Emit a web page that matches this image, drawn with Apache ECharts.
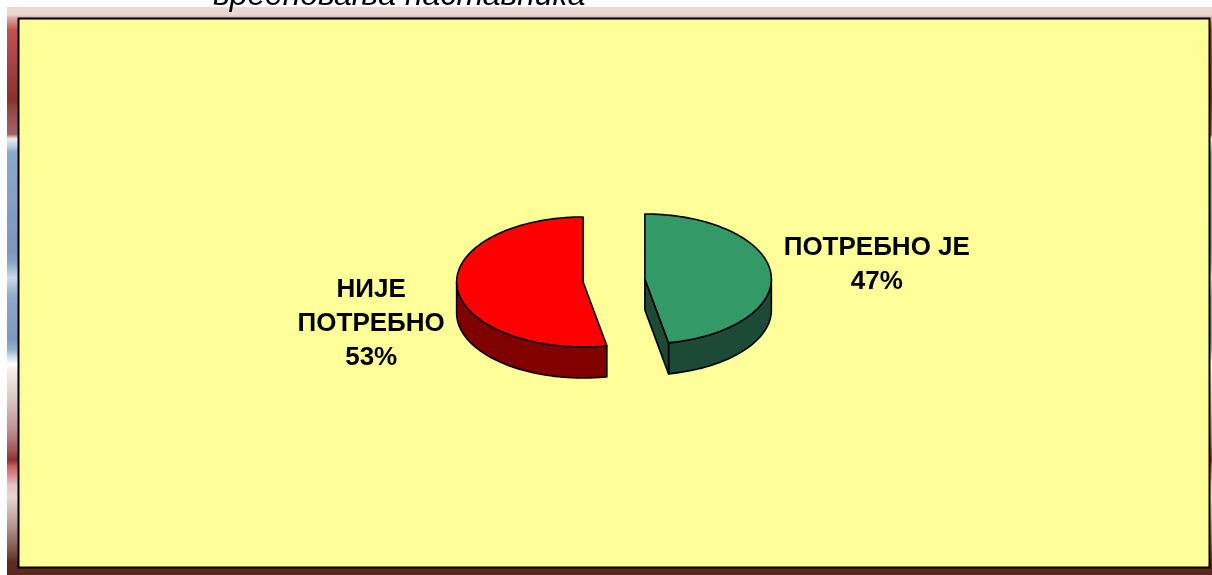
<!DOCTYPE html>
<html>
<head>
<meta charset="utf-8">
<script src="https://cdn.jsdelivr.net/npm/echarts@6/dist/echarts.min.js"></script>
<style>
    html, body { margin: 0; padding: 0; background: #fff; }
    #chart { width: 1212px; height: 575px; }
</style>
</head>
<body>
<div id="chart"></div>
<script>
// подаци
const categories = ['НИЈЕ\nПОТРЕБНО', 'ПОТРЕБНО ЈЕ'];
const values = [53, 47];
const titleText = 'вредновања наставника';

// геометрија 3Д пите
const pie = { cx: 614, cy: 280.5, rx: 126.5, ry: 65, depth: 31, explode: 31, start: -90 };
const sliceStyles = [
    { top: '#FF0000', side: '#800000', label: [-86, 36] },
    { top: '#339966', side: '#1D4A36', label: [106, -8] }
];
const labelFont = 'bold 26px "Liberation Sans", Arial, sans-serif';

// позадина слајда (вертикални градијент)
const bgStops = [
    [0, '#EBDAD4'], [0.014, '#EAD6D0'], [0.0176, '#E0B4AE'], [0.028, '#D48480'],
    [0.0405, '#C4524E'], [0.116, '#A03E3E'], [0.164, '#8A3030'], [0.181, '#964848'],
    [0.224, '#A46464'], [0.232, '#F2EAEA'], [0.245, '#BDD1E3'], [0.255, '#8AAAC9'],
    [0.428, '#7D95BF'], [0.449, '#84A6C6'], [0.463, '#A6C0DA'], [0.477, '#C9DBEB'],
    [0.498, '#A0BAD4'], [0.512, '#8AA8C8'], [0.586, '#7E98C0'], [0.604, '#98B4D0'],
    [0.618, '#D8E4F0'], [0.629, '#FFFFFF'], [0.639, '#F4EEEE'], [0.692, '#DCC4C4'],
    [0.745, '#C09090'], [0.78, '#A05858'], [0.798, '#8C3232'], [0.808, '#C85C5C'],
    [0.826, '#D89090'], [0.842, '#E6C4C0'], [0.863, '#E8D4D0'], [0.903, '#C0A49C'],
    [0.938, '#987068'], [0.967, '#6E4036'], [0.977, '#5C2A20'], [1, '#5A2820']
];

const total = values.reduce((a, b) => a + b, 0);
const rad = d => d * Math.PI / 180;

function pt(c, t, dy) {
    return [c[0] + pie.rx * Math.cos(rad(t)), c[1] + pie.ry * Math.sin(rad(t)) + (dy || 0)];
}

function arc(c, t0, t1, dy) {
    const pts = [];
    const n = Math.max(2, Math.ceil((t1 - t0) / 2));
    for (let k = 0; k <= n; k++) {
        pts.push(pt(c, t0 + (t1 - t0) * k / n, dy));
    }
    return pts;
}

function renderSlice(params, api) {
    const i = params.dataIndex;
    const v = api.value(0);
    const before = values.slice(0, i).reduce((a, b) => a + b, 0);
    let a1 = pie.start - before / total * 360;
    let a0 = a1 - v / total * 360;
    while (a0 < -90) { a0 += 360; a1 += 360; }
    const mid = (a0 + a1) / 2;
    const c = [
        pie.cx + pie.explode * Math.cos(rad(mid)),
        pie.cy + pie.explode * (pie.ry / pie.rx) * Math.sin(rad(mid))
    ];
    const st = sliceStyles[i];
    const line = { stroke: '#000', lineWidth: 1.6, lineJoin: 'round' };
    const children = [];

    // предња бочна страна
    [[0, 180], [360, 540]].forEach(([f0, f1]) => {
        const s0 = Math.max(a0, f0), s1 = Math.min(a1, f1);
        if (s1 > s0) {
            const pts = arc(c, s0, s1, 0).concat(arc(c, s0, s1, pie.depth).reverse());
            children.push({ type: 'polygon', shape: { points: pts }, style: Object.assign({ fill: st.side }, line) });
        }
    });
    // радијалне стране
    [[a0, Math.cos(rad(a0)) < -1e-6], [a1, Math.cos(rad(a1)) > 1e-6]].forEach(([a, vis]) => {
        if (!vis) return;
        const e = pt(c, a, 0);
        const pts = [c, e, [e[0], e[1] + pie.depth], [c[0], c[1] + pie.depth]];
        children.push({ type: 'polygon', shape: { points: pts }, style: Object.assign({ fill: st.side }, line) });
    });
    // горња страна
    children.push({
        type: 'polygon',
        shape: { points: [c].concat(arc(c, a0, a1, 0)) },
        style: Object.assign({ fill: st.top }, line)
    });
    // ознака
    const lp = pt(c, mid, 0);
    children.push({
        type: 'text',
        style: {
            text: categories[i] + '\n' + v + '%',
            x: lp[0] + st.label[0],
            y: lp[1] + st.label[1],
            font: labelFont,
            lineHeight: 34,
            fill: '#000',
            align: 'center',
            verticalAlign: 'middle',
            textAlign: 'center',
            textVerticalAlign: 'middle'
        }
    });
    return { type: 'group', children: children };
}

const chart = echarts.init(document.getElementById('chart'));
chart.setOption({
    backgroundColor: '#fff',
    animation: false,
    graphic: [
        {
            type: 'rect', z: -10, silent: true,
            shape: { x: 7, y: 7, width: 1205, height: 568 },
            style: {
                fill: new echarts.graphic.LinearGradient(0, 0, 0, 1,
                    bgStops.map(s => ({ offset: s[0], color: s[1] })))
            }
        },
        {
            type: 'text', z: -10, silent: true,
            style: {
                text: titleText, x: 213, y: -4,
                font: 'italic 32px "Liberation Sans", Arial, sans-serif',
                fill: '#000', verticalAlign: 'middle', textVerticalAlign: 'middle'
            }
        },
        {
            type: 'rect', z: -9, silent: true,
            shape: { x: 18.5, y: 18.5, width: 1191, height: 549 },
            style: { fill: '#FFFF99', stroke: '#000', lineWidth: 2 }
        }
    ],
    series: [{
        type: 'custom',
        coordinateSystem: 'none',
        renderItem: renderSlice,
        data: values.map((v, i) => ({ name: categories[i], value: [v] }))
    }]
});
</script>
</body>
</html>
